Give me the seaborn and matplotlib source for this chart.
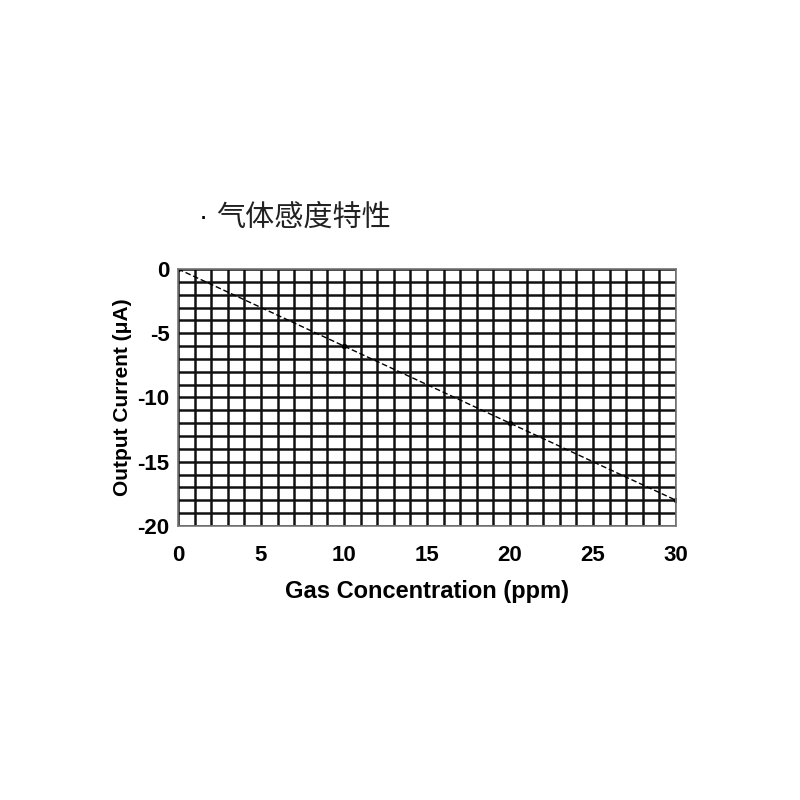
import numpy as np
import pandas as pd
import matplotlib
matplotlib.use("Agg")
import matplotlib.pyplot as plt
import seaborn as sns

# gas concentration (ppm) vs output current (uA)
conc = [0, 10, 20, 30]
current = [0, -6, -12, -18]
x_ticks = [0, 5, 10, 15, 20, 25, 30]
y_ticks = [0, -5, -10, -15, -20]

sns.set_style("white")
plt.rcParams["font.family"] = ["Liberation Sans", "DejaVu Sans"]
plt.rcParams["axes.unicode_minus"] = False
plt.rcParams["text.color"] = "black"
plt.rcParams["axes.labelcolor"] = "black"
plt.rcParams["xtick.color"] = "black"
plt.rcParams["ytick.color"] = "black"

df = pd.DataFrame({"conc": conc, "current": current})

fig = plt.figure(figsize=(8, 8), dpi=100)
ax = fig.add_axes([0.2225, 0.3425, 0.6225, 0.3213])

sns.lineplot(data=df, x="conc", y="current", ax=ax, color="black",
             linestyle=(0, (4, 2)), linewidth=1.0, marker="o", markersize=4,
             markeredgewidth=0)

ax.set_xlim(0, 30)
ax.set_ylim(-20, 0)
ax.set_xticks(np.arange(0, 31, 1), minor=True)
ax.set_yticks(np.arange(-20, 1, 1), minor=True)
ax.set_xticks(x_ticks)
ax.set_yticks(y_ticks)
ax.grid(which="both", color="#111111", linewidth=1.8)
ax.set_axisbelow(True)
ax.tick_params(which="both", length=0)
ax.tick_params(axis="x", pad=14, labelsize=16)
ax.tick_params(axis="y", pad=6, labelsize=16)
for lab in ax.get_xticklabels() + ax.get_yticklabels():
    lab.set_fontweight("bold")
for s in ax.spines.values():
    s.set_color("#777777")
    s.set_linewidth(1.2)

ax.set_xlabel("Gas Concentration (ppm)", fontsize=17, fontweight="bold", labelpad=10)
ax.set_ylabel("Output Current (μA)", fontsize=15, fontweight="bold", labelpad=4)

fig.text(0.248, 0.728, "·", fontsize=20, ha="left", va="center")
fig.text(0.27, 0.728, "气体感度特性", fontsize=21, ha="left", va="center",
         family=["Noto Sans CJK SC", "DejaVu Sans"], color="#222222")

fig.savefig("out.png", dpi=100)
